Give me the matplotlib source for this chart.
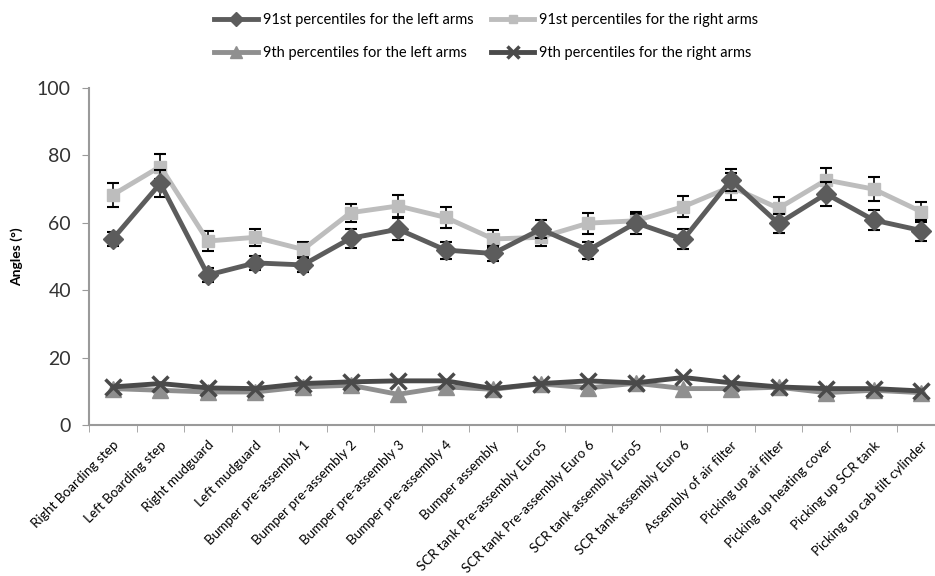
import numpy as np
import matplotlib
matplotlib.use("Agg")
import matplotlib.pyplot as plt

tasks = ["Right Boarding step", "Left Boarding step", "Right mudguard", "Left mudguard",
         "Bumper pre-assembly 1", "Bumper pre-assembly 2", "Bumper pre-assembly 3",
         "Bumper pre-assembly 4", "Bumper assembly", "SCR tank Pre-assembly Euro5",
         "SCR tank Pre-assembly Euro 6", "SCR tank assembly Euro5", "SCR tank assembly Euro 6",
         "Assembly of air filter", "Picking up air filter", "Picking up heating cover",
         "Picking up SCR tank", "Picking up cab tilt cylinder"]

# 91st percentiles (with error bars)
p91_left = [55.2, 71.7, 44.5, 48.1, 47.5, 55.4, 58.1, 51.9, 50.9, 58.1, 51.9, 60.0,
            55.1, 72.7, 59.8, 68.6, 60.8, 57.7]
p91_left_err = [2.2, 4.0, 2.0, 2.0, 2.0, 2.8, 3.3, 2.5, 2.3, 2.7, 2.5, 3.2,
                3.0, 3.2, 2.8, 3.5, 3.0, 3.0]
p91_right = [68.3, 76.7, 54.6, 55.7, 52.1, 63.0, 65.0, 61.6, 55.2, 55.7, 59.9, 60.6,
             64.8, 70.7, 64.3, 72.7, 70.0, 63.3]
p91_right_err = [3.5, 3.8, 2.9, 2.5, 2.3, 2.7, 3.2, 3.0, 2.7, 2.7, 3.1, 2.0,
                 3.2, 4.0, 3.3, 3.5, 3.6, 3.0]

# 9th percentiles
p9_left = [10.8, 10.3, 9.8, 9.8, 11.3, 11.8, 9.1, 11.3, 10.6, 12.2, 11.0, 12.4,
           10.8, 10.8, 11.2, 9.6, 10.3, 9.6]
p9_right = [11.3, 12.3, 11.0, 10.8, 12.3, 12.8, 13.1, 13.1, 10.8, 12.3, 13.1, 12.5,
            14.1, 12.5, 11.3, 10.8, 10.8, 10.1]

x = np.arange(len(tasks))

plt.rcParams['font.family'] = ['Lato', 'DejaVu Sans']

fig = plt.figure(figsize=(9.35, 5.76), dpi=100)
ax = fig.add_axes([89 / 935, 1 - 425 / 576, 856 / 935, 337 / 576])

h_9l, = ax.plot(x, p9_left, color='#8f8f8f', lw=3.5, marker='^', ms=12,
                label='9th percentiles for the left arms', zorder=2)
h_9r, = ax.plot(x, p9_right, color='#4a4a4a', lw=3.5, marker='x', ms=12, mew=2.5,
                label='9th percentiles for the right arms', zorder=3)

ax.errorbar(x, p91_right, yerr=p91_right_err, fmt='none', ecolor='black',
            elinewidth=1.2, capsize=4, capthick=1.5, zorder=4)
h_91r, = ax.plot(x, p91_right, color='#bdbdbd', lw=3.5, marker='s', ms=9,
                 label='91st percentiles for the right arms', zorder=5)
ax.errorbar(x, p91_left, yerr=p91_left_err, fmt='none', ecolor='black',
            elinewidth=1.2, capsize=4, capthick=1.5, zorder=6)
h_91l, = ax.plot(x, p91_left, color='#5c5c5c', lw=3.5, marker='D', ms=10,
                 label='91st percentiles for the left arms', zorder=7)

ax.set_xlim(-0.5, len(tasks) - 0.5)
ax.set_ylim(0, 100)
ax.set_yticks([0, 20, 40, 60, 80, 100])
ax.tick_params(axis='y', labelsize=14, colors='#333333', length=5, color='#9a9a9a', pad=8)
ax.set_ylabel('Angles (°)', fontsize=10, fontweight='bold', labelpad=10)

# categories labelled at centre, ticks at boundaries (excel style)
ax.set_xticks(x)
ax.set_xticklabels(tasks, rotation=45, ha='right', rotation_mode='anchor', fontsize=9.7)
ax.tick_params(axis='x', length=0, pad=10)
ax.set_xticks(np.arange(-0.5, len(tasks), 1), minor=True)
ax.tick_params(axis='x', which='minor', length=5, color='#9a9a9a')

for s in ['top', 'right']:
    ax.spines[s].set_visible(False)
for s in ['left', 'bottom']:
    ax.spines[s].set_color('#9a9a9a')
    ax.spines[s].set_linewidth(1.5)

fig.legend(handles=[h_91l, h_9l, h_91r, h_9r], ncol=2, frameon=False, fontsize=10.5,
           loc='upper center', bbox_to_anchor=(0.52, 1.0), labelspacing=1.3,
           columnspacing=1.2, handlelength=3, handletextpad=0.3, markerscale=0.7,
           borderaxespad=0.5)

fig.savefig('out.png', dpi=100)
